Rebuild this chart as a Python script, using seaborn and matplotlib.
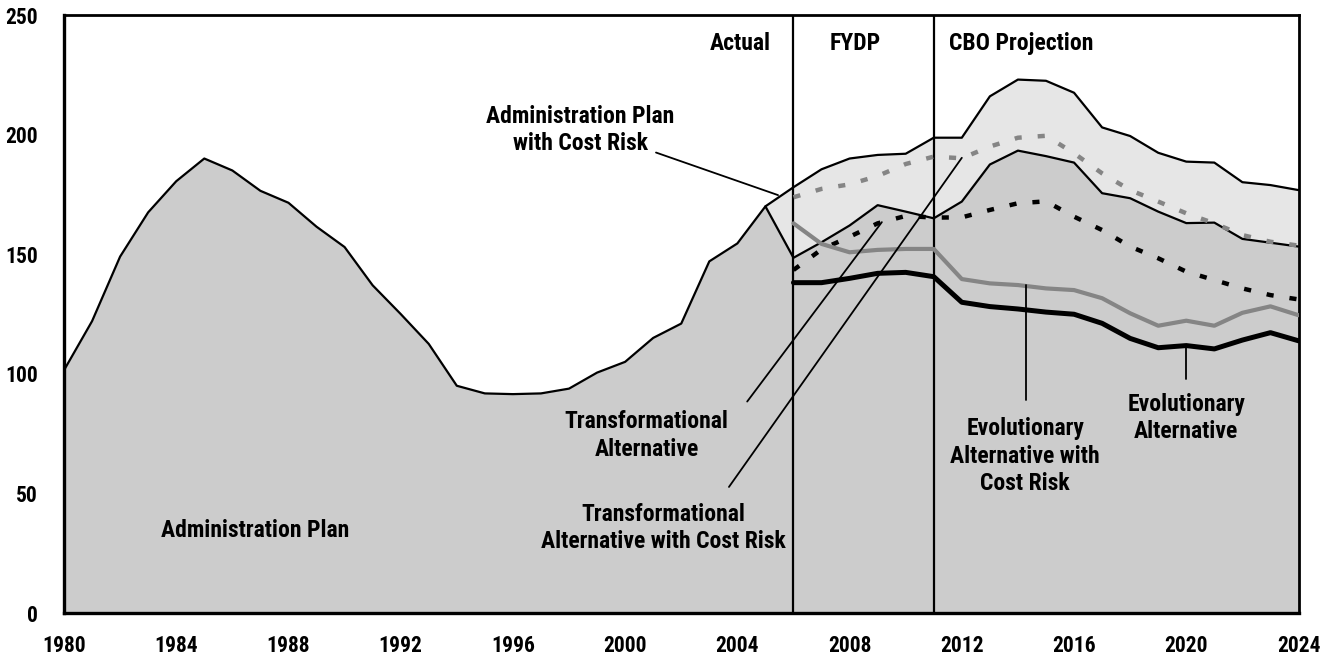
import numpy as np
import pandas as pd
import matplotlib
matplotlib.use("Agg")
import matplotlib.pyplot as plt
import seaborn as sns
from matplotlib import font_manager
from matplotlib.font_manager import FontProperties

# ---------------- data ----------------
years_hist = list(range(1980, 2006))
admin_hist = [101.5, 122, 149, 167.5, 180.5, 190, 185, 176.5, 171.5, 161.5,
              153, 137, 125, 112.5, 95, 91.8, 91.5, 91.8, 93.8, 100.5,
              105, 115, 121, 147, 154.5, 170]

years_proj = list(range(2006, 2025))
admin_proj = [148.5, 155, 162, 170.5, 167.8, 165, 172, 187.5, 193.3, 191,
              188.3, 175.5, 173.4, 167.8, 163, 163.2, 156.4, 154.8, 153.2]
admin_cost_risk = [178, 185.5, 190, 191.5, 192, 198.7, 198.7, 216, 223, 222.5,
                   217.5, 203, 199.4, 192.4, 188.7, 188.3, 180.1, 178.9, 176.8]
trans_cost_risk = [173.8, 177.3, 179.2, 182.7, 187.7, 190.8, 190.1, 195.0, 198.7, 199.5,
                   192.2, 183.8, 176.8, 172.0, 167.1, 162.9, 158.0, 155.2, 153.6]
trans_alt = [143.4, 152, 157.3, 162.9, 166, 165.3, 165.4, 168.5, 171.3, 172.1,
             165.7, 160.1, 153.2, 148.3, 142.7, 139.2, 135.7, 132.9, 131.1]
evo_cost_risk = [162.9, 154.3, 150.8, 151.8, 152.2, 152.2, 139.6, 137.8, 137.1, 135.7,
                 135, 131.6, 125.3, 120.1, 122.2, 120.1, 125.5, 128.2, 124.5]
evo_alt = [138.1, 138.1, 139.9, 142, 142.4, 140.6, 129.9, 128.1, 127.1, 125.8,
           124.9, 121.1, 114.8, 110.9, 111.8, 110.4, 114.1, 117.2, 113.8]

x_ticks = list(range(1980, 2025, 4))
y_ticks = [0, 50, 100, 150, 200, 250]
period_bounds = [2006, 2011]

# ---------------- style ----------------
sns.set_style("white")
plt.rcParams["font.family"] = ["DejaVu Sans"]
plt.rcParams["font.weight"] = "bold"
plt.rcParams["text.color"] = "black"
plt.rcParams["xtick.color"] = "black"
plt.rcParams["ytick.color"] = "black"


def pick_font():
    prefs = ["Roboto Condensed", "Archivo Narrow", "PT Sans Narrow", "Asap Condensed",
             "Fira Sans Condensed", "IBM Plex Sans Condensed", "Encode Sans Condensed",
             "Barlow Semi Condensed", "Sofia Sans Condensed", "Open Sans Condensed",
             "Liberation Sans Narrow"]
    tl = font_manager.fontManager.ttflist

    def wnum(w):
        if isinstance(w, (int, float)):
            return w
        return {"bold": 700, "semibold": 600, "demibold": 600, "heavy": 800,
                "black": 900, "medium": 500, "normal": 400, "regular": 400}.get(str(w).lower(), 400)
    for name in prefs:
        c = [f for f in tl if f.name == name and f.style == "normal"]
        static_bold = [f for f in c if "[" not in f.fname and 650 <= wnum(f.weight) <= 750]
        if static_bold:
            return static_bold[0].fname
    for name in prefs:
        c = [f for f in tl if f.name == name and f.style == "normal"]
        if c:
            return c[0].fname
    return None


fpath = pick_font()


def fp(size):
    if fpath:
        return FontProperties(fname=fpath, size=size)
    return FontProperties(family="DejaVu Sans", weight="bold", size=size)


DARK = "#cccccc"
LIGHT = "#e6e6e6"
GRAY = "#858585"

fig = plt.figure(figsize=(13.38, 6.62), dpi=100)
ax = fig.add_axes([64 / 1338, 49 / 662, (1298.5 - 64) / 1338, (613 - 15) / 662])

all_years = years_hist + years_proj
admin_all = admin_hist + admin_proj

ax.fill_between(all_years, 0, admin_all, color=DARK, lw=0, zorder=1)
cr_years = [2005] + years_proj
cr_upper = [admin_hist[-1]] + admin_cost_risk
cr_lower = [admin_hist[-1]] + admin_proj
ax.fill_between(cr_years, cr_lower, cr_upper, color=LIGHT, lw=0, zorder=1)

sns.lineplot(x=all_years, y=admin_all, ax=ax, color="black", lw=1.6, zorder=3)
sns.lineplot(x=cr_years, y=cr_upper, ax=ax, color="black", lw=1.6, zorder=3)
for b in period_bounds:
    ax.axvline(b, color="black", lw=1.6, zorder=4)

dash = (0, (1.6, 3.6))
sns.lineplot(x=years_proj, y=trans_cost_risk, ax=ax, color=GRAY, lw=3.2,
             linestyle=dash, dash_capstyle="butt", zorder=5)
sns.lineplot(x=years_proj, y=trans_alt, ax=ax, color="black", lw=3.2,
             linestyle=dash, dash_capstyle="butt", zorder=5)
sns.lineplot(x=years_proj, y=evo_cost_risk, ax=ax, color=GRAY, lw=3.0, zorder=5)
sns.lineplot(x=years_proj, y=evo_alt, ax=ax, color="black", lw=3.6, zorder=5)

fs = 17
ls = 1.25
tkw = dict(fontproperties=fp(fs), ha="center", va="center", zorder=6)
ax.text(2004.1, 238, "Actual", **tkw)
ax.text(2008.2, 238, "FYDP", **tkw)
ax.text(2014.1, 238, "CBO Projection", **tkw)
ax.text(1986.82, 34.5, "Administration Plan", **tkw)
ax.text(1998.4, 201.9, "Administration Plan\nwith Cost Risk", linespacing=ls, **tkw)
ax.plot([2001.1, 2005.45], [192.5, 174.7], color="black", lw=1.3, zorder=6)
ax.text(2000.77, 74.3, "Transformational\nAlternative", linespacing=ls, **tkw)
ax.plot([2004.35, 2009.15], [88.4, 163.4], color="black", lw=1.3, zorder=6)
ax.text(2001.35, 35.5, "Transformational\nAlternative with Cost Risk", linespacing=ls, **tkw)
ax.plot([2003.7, 2012.0], [52.7, 190.3], color="black", lw=1.3, zorder=6)
ax.text(2014.26, 65.6, "Evolutionary\nAlternative with\nCost Risk", linespacing=ls, **tkw)
ax.plot([2014.28, 2014.28], [89, 137], color="black", lw=1.3, zorder=6)
ax.text(2020.0, 81.5, "Evolutionary\nAlternative", linespacing=ls, **tkw)
ax.plot([2020.0, 2020.0], [98, 111.8], color="black", lw=1.3, zorder=6)

ax.set_xlim(1980, 2024)
ax.set_ylim(0, 250)
ax.set_xticks(x_ticks)
ax.set_xticklabels([str(v) for v in x_ticks], fontproperties=fp(15.5))
ax.set_yticks(y_ticks)
ax.set_yticklabels([str(v) for v in y_ticks], fontproperties=fp(15.5))
ax.tick_params(axis="both", direction="in", length=16, width=1.2, color="black")
ax.tick_params(axis="x", pad=16)
ax.tick_params(axis="y", pad=19)
for s in ax.spines.values():
    s.set_visible(True)
    s.set_color("black")
    s.set_linewidth(2.0)
ax.spines["left"].set_linewidth(2.4)
ax.spines["bottom"].set_linewidth(2.4)
ax.set_xlabel("")
ax.set_ylabel("")

fig.savefig("out.png", dpi=100)
